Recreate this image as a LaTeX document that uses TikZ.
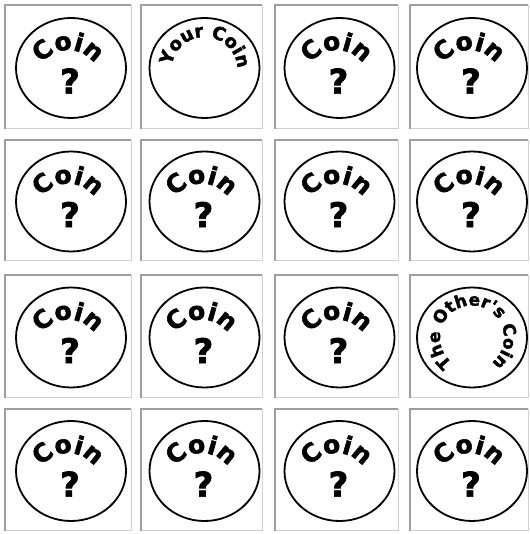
\documentclass[tikz,border=0pt]{standalone}
\usepackage{fontspec}
\usepackage{tikz}
\newfontfamily\coinfont{DejaVu Sans}[BoldFeatures={FakeBold=2}]
\newcommand\coinbf{\coinfont\bfseries}
\usetikzlibrary{
  calc,
  decorations.text
}

\begin{document}
\begin{tikzpicture}[x=1pt,y=1pt]
  \tikzset{
    cell/.style={inner sep=0pt, outer sep=0pt},
    darkedge/.style={draw=black!38, line width=2pt},
    lightedge/.style={draw=black!18, line width=1pt},
    rim/.style={draw=black, line width=1.8pt},
    qmark/.style={font=\coinbf\fontsize{34}{34}\selectfont, inner sep=0pt},
    cointext/.style={decorate, decoration={text along path,
        text={|\coinbf\fontsize{25}{25}\selectfont|Coin}, text align=center}},
    yourtext/.style={decorate, decoration={text along path,
        text={|\coinbf\fontsize{18}{18}\selectfont|Your Coin}, text align=center}},
    othertext/.style={decorate, decoration={text along path,
        text={|\coinbf\fontsize{17}{17}\selectfont|The Other's Coin}, text align=center}}
  }

  \useasboundingbox[fill=white] (0,0) rectangle (529,534);

  % the 4x4 frames and their coins
  \foreach \c/\xl/\xr in {1/5/131, 2/141/262, 3/275/398, 4/410/528} {
    \foreach \r/\yt/\yb in {1/529/405, 2/394/273, 3/259/136, 4/125/3} {
      \node[cell, minimum width={\xr-\xl}, minimum height={\yt-\yb}]
        (box-\r-\c) at ({(\xl+\xr)/2},{(\yt+\yb)/2}) {};
      \draw[lightedge] (box-\r-\c.north east) |- (box-\r-\c.south west);
      \draw[darkedge] (box-\r-\c.south west) |- (box-\r-\c.north east);
      \coordinate (coin-\r-\c) at ($(box-\r-\c.center)+(3,-1)$);
      \draw[rim] (coin-\r-\c) ellipse[x radius=55, y radius=50];
    }
  }

  \foreach \r/\c in {1/1,1/3,1/4,2/1,2/2,2/3,2/4,3/1,3/2,3/3,4/1,4/2,4/3,4/4} {
    \path[cointext] ($(coin-\r-\c)+(-3,-14)+(165:32)$)
      arc[start angle=165, end angle=15, radius=32];
    \node[qmark] (q-\r-\c) at ($(coin-\r-\c)+(-1,-13)$) {?};
  }

  \path[yourtext] ($(coin-1-2)+(0,-2)+(178:33)$)
    arc[start angle=178, end angle=-3, radius=33];
  \path[othertext] ($(coin-3-4)+(255:32)$)
    arc[start angle=255, end angle=-75, radius=32];

\end{tikzpicture}
\end{document}
